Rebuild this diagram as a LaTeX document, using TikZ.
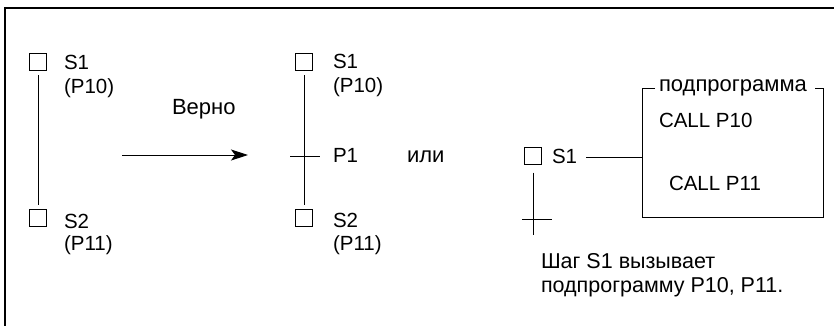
\documentclass[tikz,border=0pt]{standalone}
\usepackage{fontspec}
\setmainfont{Liberation Sans}
\usetikzlibrary{arrows.meta}
\begin{document}
\begin{tikzpicture}[x=1pt,y=-1pt,
  every node/.style={font=\fontsize{20.5}{24}\selectfont, inner sep=0pt, outer sep=0pt},
  cyr/.style={font=\fontsize{22}{26}\selectfont},
  mixed/.style={font=\fontsize{21.5}{26}\selectfont},
  stepsq/.style={draw, line width=0.9pt, minimum size=17pt, inner sep=0pt},
  txt/.style={anchor=base west},
  link/.style={line width=0.9pt},
  frame/.style={line width=2.4pt}
]
\useasboundingbox (0,0) rectangle (834,326);
% outer frame (open)
\draw[frame] (5,326) -- (5,8) -- (834,8);

% left diagram
\node[stepsq] (a1) at (38,62) {};
\node[stepsq] (a2) at (38,218) {};
\node[txt] (a1t) at (64,70) {S1};
\node[txt] (a1p) at (64,94) {(P10)};
\node[txt] (a2t) at (64,228) {S2};
\node[txt] (a2p) at (64,250) {(P11)};
\draw[link, shorten <=5pt, shorten >=5pt] (a1) -- (a2);

% arrow
\node[txt, cyr] (ok) at (172,114) {Верно};
\coordinate (arS) at (122,155);
\coordinate (arE) at (248,155);
\draw[link, -{Stealth[length=17pt,width=11pt,inset=4pt]}] (arS) -- (arE);

% middle diagram
\node[stepsq] (b1) at (304,62) {};
\node[stepsq] (b2) at (304,218) {};
\node[txt] (b1t) at (333,69) {S1};
\node[txt] (b1p) at (333,93) {(P10)};
\node[txt] (b2t) at (333,227) {S2};
\node[txt] (b2p) at (333,250) {(P11)};
\node[txt] (p1) at (333,162) {P1};
\coordinate (bxl) at (290,156);
\coordinate (bxr) at (320,156);
\draw[link, shorten <=5pt, shorten >=5pt] (b1) -- (b2);
\draw[link] (bxl) -- (bxr);

\node[txt, cyr] (or) at (407,162) {или};

% right diagram
\node[stepsq] (c1) at (533,156) {};
\node[txt] (c1t) at (552,163) {S1};
\coordinate (cEnd) at (533,235);
\coordinate (cxl) at (522,219);
\coordinate (cxr) at (552,219);
\draw[link, shorten <=8pt] (c1) -- (cEnd);
\draw[link] (cxl) -- (cxr);
\node[txt, mixed] (note1) at (541,268) {Шаг S1 вызывает};
\node[txt, mixed] (note2) at (541,292) {подпрограмму P10, P11.};

% subprogram box
\coordinate (sTL) at (642,88);
\coordinate (sBR) at (823,217);
\coordinate (sBL) at (642,217);
\coordinate (sTR) at (823,88);
\node[txt, cyr] (slab) at (659,92) {подпрограмма};
\draw[link] (655,88) -- (sTL) -- (sBL) -- (sBR) -- (sTR) -- (815,88);
\node[txt] (call1) at (659,127) {CALL P10};
\node[txt] (call2) at (669,190) {CALL P11};
\coordinate (cl) at (586,157);
\draw[link] (cl) -- (sTL |- cl);
\end{tikzpicture}
\end{document}
